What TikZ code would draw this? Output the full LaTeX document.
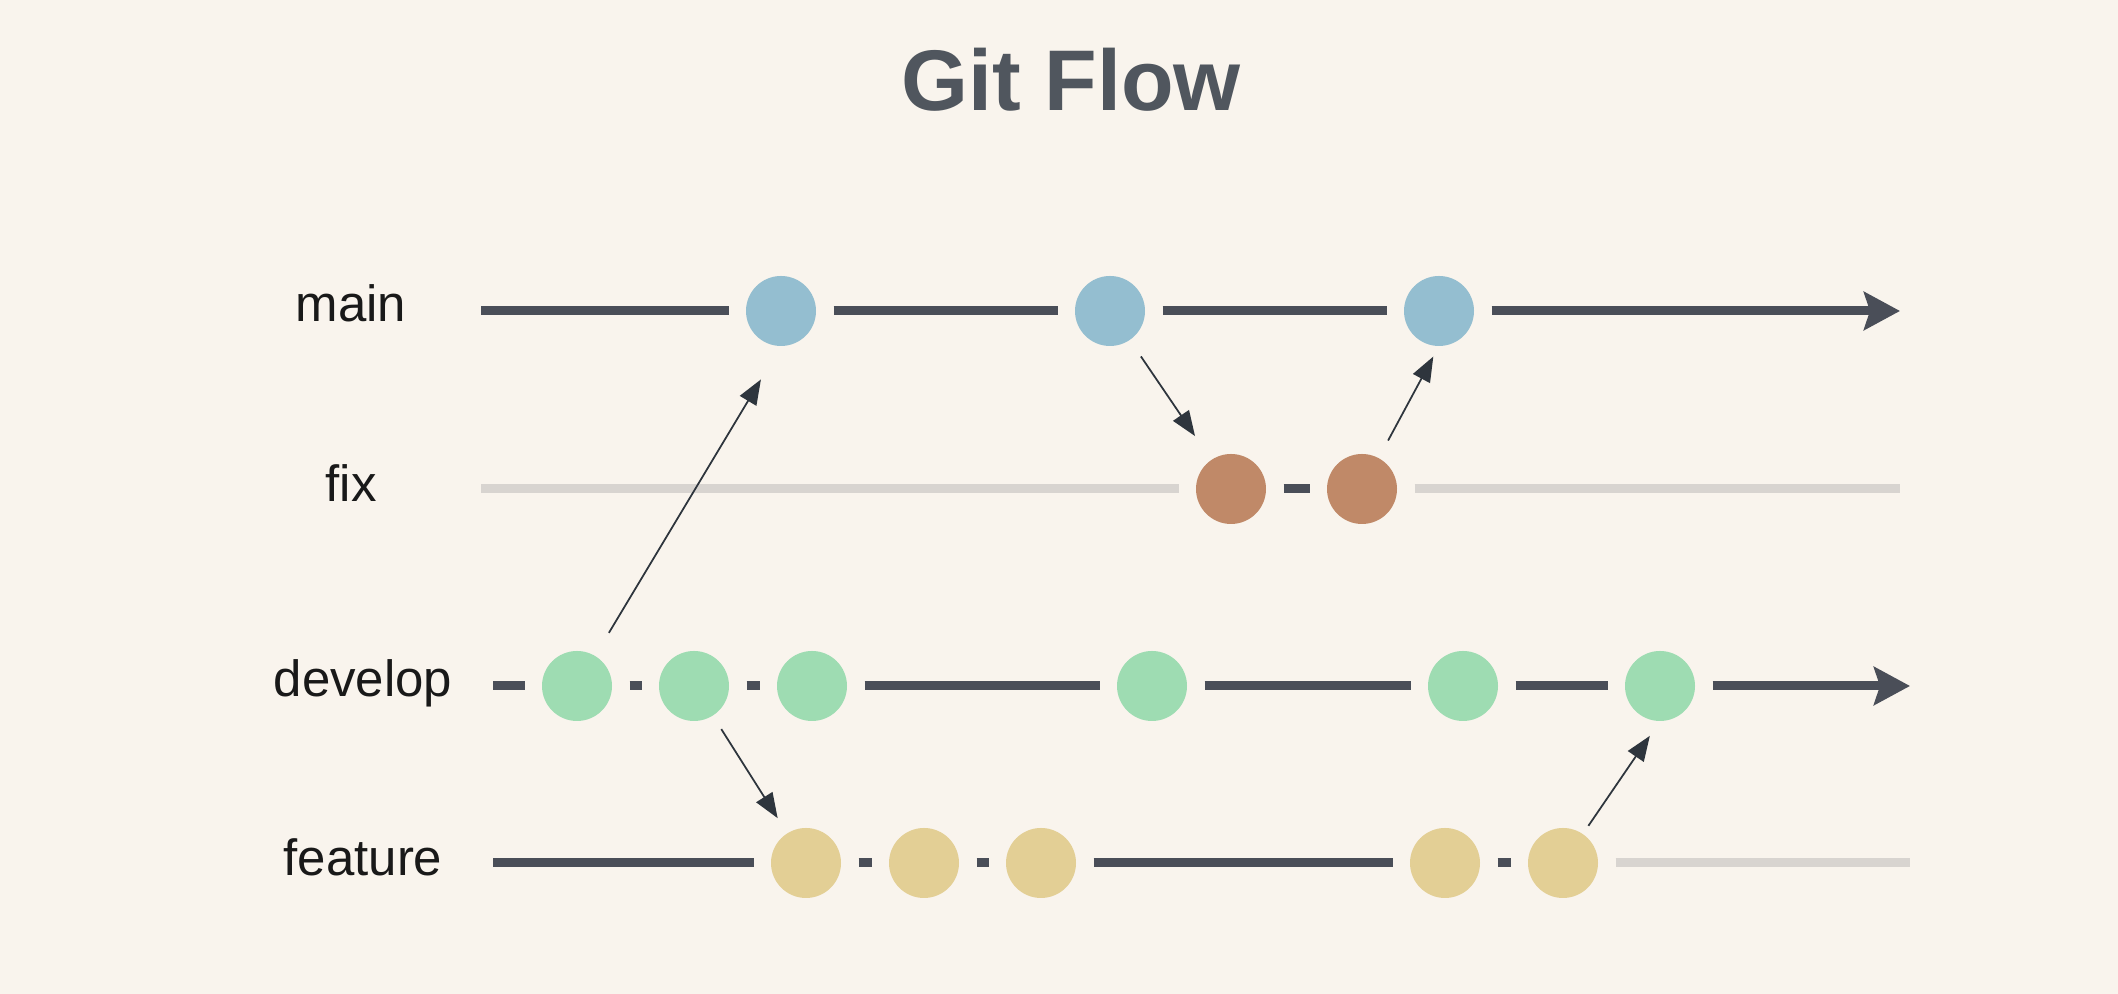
\documentclass[tikz,border=0pt]{standalone}
\usepackage{fontspec}
\setmainfont{Liberation Sans}
\usetikzlibrary{arrows.meta}
\definecolor{paper}{HTML}{F9F4ED}
\definecolor{ink}{HTML}{4A4E58}
\definecolor{faint}{HTML}{D8D4D0}
\definecolor{tip}{HTML}{2E353D}
\definecolor{titlegray}{HTML}{50565E}
\definecolor{mainc}{HTML}{94BED0}
\definecolor{fixc}{HTML}{C08968}
\definecolor{devc}{HTML}{9EDCB2}
\definecolor{featc}{HTML}{E3CF95}
\begin{document}
\begin{tikzpicture}[
    commit/.style={circle, minimum size=0.7cm, inner sep=0pt, outer sep=0pt},
    branch/.style={line width=0.09cm, draw=ink},
    idle/.style={line width=0.09cm, draw=faint},
    gap/.style={shorten <=0.175cm, shorten >=0.175cm},
    head/.style={-{Stealth[length=0.36cm, width=0.38cm, inset=0.06cm]}},
    merge/.style={-{Triangle[length=0.25cm, width=0.19cm]}, line width=0.5pt, draw=tip},
    lbl/.style={anchor=base, font=\fontsize{14.5}{17}\selectfont, text=black!90}]
  % Background and title
  \fill[paper] (0,0) rectangle (21.18,9.94);
  \node[font=\fontsize{24.5}{29}\selectfont\bfseries, text=titlegray] (title) at (10.71,9.14) {Git Flow};
  % Branch labels
  \node[lbl] (lmain) at (3.51,6.72) {main};
  \node[lbl] (lfix) at (3.51,4.92) {fix};
  \node[lbl] (ldev) at (3.63,2.97) {develop};
  \node[lbl] (lfeat) at (3.63,1.18) {feature};
  % Line ends
  \coordinate (ms) at (4.81,6.83);
  \coordinate (me) at (19.00,6.83);
  \coordinate (xs) at (4.81,5.05);
  \coordinate (xe) at (19.00,5.05);
  \coordinate (ds) at (4.93,3.08);
  \coordinate (de) at (19.10,3.08);
  \coordinate (fs) at (4.93,1.31);
  \coordinate (fe) at (19.10,1.31);
  % Commits
  \node[commit, fill=mainc] (m1) at (7.81,6.83) {};
  \node[commit, fill=mainc] (m2) at (11.10,6.83) {};
  \node[commit, fill=mainc] (m3) at (14.39,6.83) {};
  \node[commit, fill=fixc] (x1) at (12.31,5.05) {};
  \node[commit, fill=fixc] (x2) at (13.62,5.05) {};
  \node[commit, fill=devc] (d1) at (5.77,3.08) {};
  \node[commit, fill=devc] (d2) at (6.94,3.08) {};
  \node[commit, fill=devc] (d3) at (8.12,3.08) {};
  \node[commit, fill=devc] (d4) at (11.52,3.08) {};
  \node[commit, fill=devc] (d5) at (14.63,3.08) {};
  \node[commit, fill=devc] (d6) at (16.60,3.08) {};
  \node[commit, fill=featc] (f1) at (8.06,1.31) {};
  \node[commit, fill=featc] (f2) at (9.24,1.31) {};
  \node[commit, fill=featc] (f3) at (10.41,1.31) {};
  \node[commit, fill=featc] (f4) at (14.45,1.31) {};
  \node[commit, fill=featc] (f5) at (15.63,1.31) {};
  % main
  \draw[branch, shorten >=0.175cm] (ms) -- (m1);
  \draw[branch, gap] (m1) -- (m2);
  \draw[branch, gap] (m2) -- (m3);
  \draw[branch, head, shorten <=0.175cm] (m3) -- (me);
  % fix
  \draw[idle, shorten >=0.175cm] (xs) -- (x1);
  \draw[branch, gap] (x1) -- (x2);
  \draw[idle, shorten <=0.175cm] (x2) -- (xe);
  % develop
  \draw[branch, shorten >=0.175cm] (ds) -- (d1);
  \draw[branch, gap] (d1) -- (d2);
  \draw[branch, gap] (d2) -- (d3);
  \draw[branch, gap] (d3) -- (d4);
  \draw[branch, gap] (d4) -- (d5);
  \draw[branch, gap] (d5) -- (d6);
  \draw[branch, head, shorten <=0.175cm] (d6) -- (de);
  % feature
  \draw[branch, shorten >=0.175cm] (fs) -- (f1);
  \draw[branch, gap] (f1) -- (f2);
  \draw[branch, gap] (f2) -- (f3);
  \draw[branch, gap] (f3) -- (f4);
  \draw[branch, gap] (f4) -- (f5);
  \draw[idle, shorten <=0.175cm] (f5) -- (fe);
  % Merges
  \draw[merge, shorten <=0.27cm, shorten >=0.39cm] (d1) -- (m1.south);
  \draw[merge, shorten <=0.2cm, shorten >=0.29cm] (m2) -- (x1);
  \draw[merge, shorten <=0.2cm, shorten >=0.12cm] (x2) -- (m3.south);
  \draw[merge, shorten <=0.16cm, shorten >=0.18cm] (d2) -- (f1);
  \draw[merge, shorten <=0.1cm, shorten >=0.18cm] (f5) -- (d6.south);
\end{tikzpicture}
\end{document}
